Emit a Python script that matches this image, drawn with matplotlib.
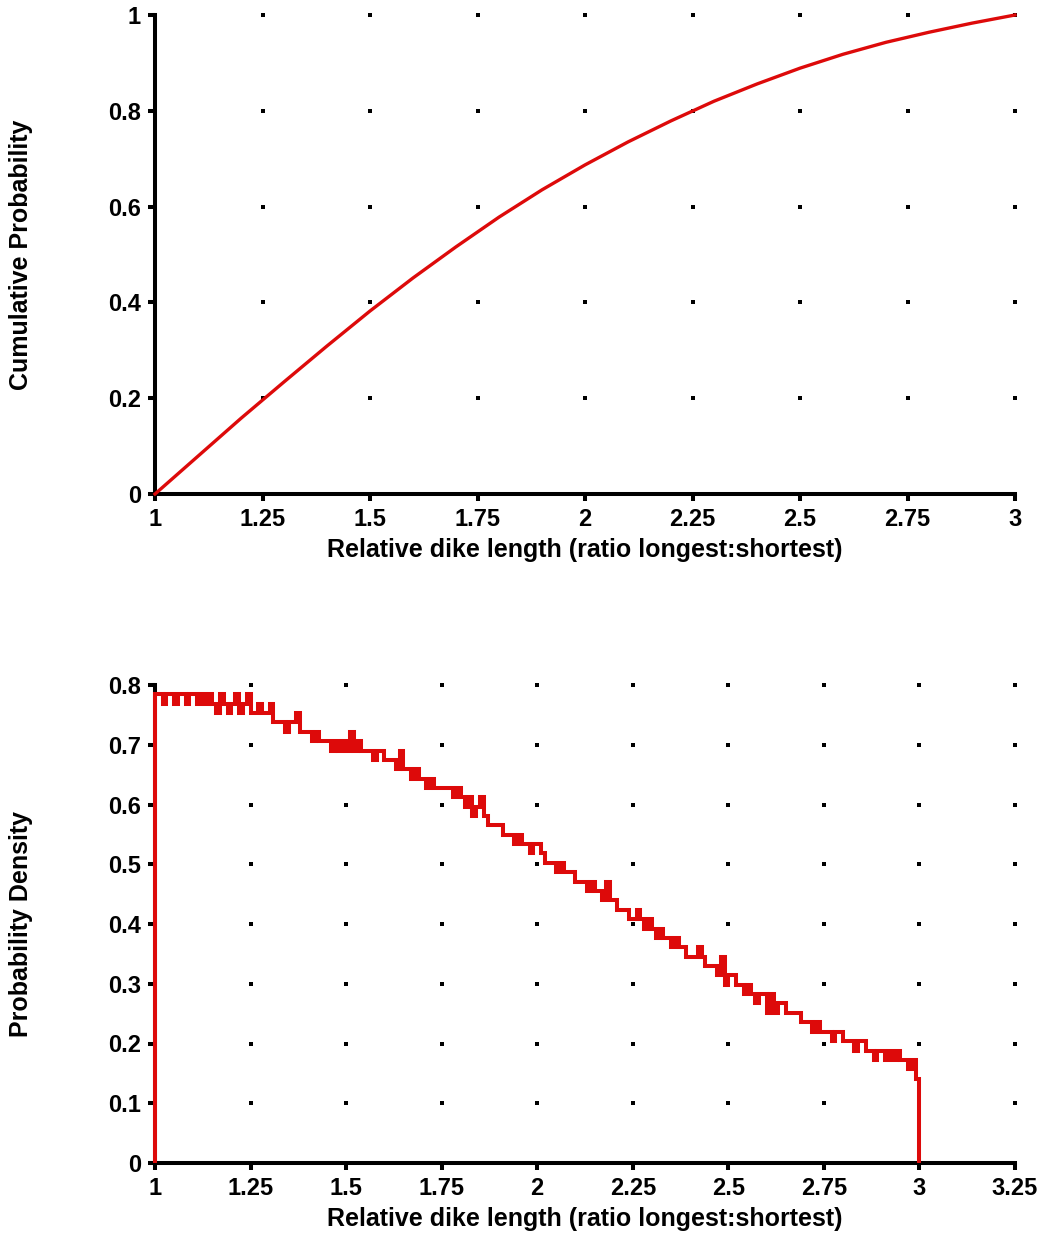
import numpy as np
import matplotlib
matplotlib.use('Agg')
import matplotlib.pyplot as plt

plt.rcParams['font.family'] = ['Liberation Sans', 'DejaVu Sans']
plt.rcParams['font.weight'] = 'bold'

RED = '#dd0a0a'

# cumulative curve
cdf_x = [1.0, 1.1, 1.2, 1.3, 1.4, 1.5, 1.6, 1.7, 1.8, 1.9, 2.0,
         2.1, 2.2, 2.3, 2.4, 2.5, 2.6, 2.7, 2.8, 2.9, 3.0]
cdf_y = [0.0, 0.079, 0.158, 0.234, 0.309, 0.382, 0.451, 0.516, 0.578, 0.635, 0.687,
         0.735, 0.779, 0.820, 0.856, 0.889, 0.918, 0.943, 0.964, 0.983, 1.0]

# histogram density, bins of 0.01 from 1 to 3
pdf_edges_start, pdf_edges_stop = 1.0, 3.0
pdf_density = [
    0.785, 0.785, 0.769, 0.785, 0.785, 0.769, 0.785, 0.785, 0.769, 0.785,
    0.785, 0.769, 0.785, 0.769, 0.785, 0.769, 0.753, 0.785, 0.769, 0.753,
    0.769, 0.785, 0.753, 0.769, 0.785, 0.753, 0.753, 0.769, 0.753, 0.753,
    0.769, 0.738, 0.738, 0.738, 0.722, 0.738, 0.738, 0.753, 0.722, 0.722,
    0.722, 0.706, 0.722, 0.706, 0.706, 0.706, 0.690, 0.706, 0.690, 0.706,
    0.690, 0.722, 0.690, 0.706, 0.690, 0.690, 0.690, 0.675, 0.690, 0.690,
    0.675, 0.675, 0.675, 0.659, 0.690, 0.659, 0.659, 0.643, 0.659, 0.643,
    0.643, 0.628, 0.643, 0.628, 0.628, 0.628, 0.628, 0.628, 0.612, 0.628,
    0.612, 0.596, 0.612, 0.581, 0.596, 0.612, 0.581, 0.565, 0.565, 0.565,
    0.565, 0.549, 0.549, 0.549, 0.534, 0.549, 0.534, 0.534, 0.518, 0.534,
    0.534, 0.518, 0.502, 0.502, 0.502, 0.487, 0.502, 0.487, 0.487, 0.487,
    0.471, 0.471, 0.471, 0.455, 0.471, 0.455, 0.455, 0.440, 0.471, 0.440,
    0.440, 0.424, 0.424, 0.424, 0.408, 0.408, 0.424, 0.408, 0.392, 0.408,
    0.392, 0.377, 0.392, 0.377, 0.377, 0.361, 0.377, 0.361, 0.361, 0.345,
    0.345, 0.345, 0.361, 0.345, 0.330, 0.330, 0.330, 0.314, 0.345, 0.298,
    0.314, 0.314, 0.298, 0.298, 0.283, 0.298, 0.283, 0.267, 0.283, 0.283,
    0.251, 0.283, 0.251, 0.267, 0.267, 0.251, 0.251, 0.251, 0.251, 0.236,
    0.236, 0.236, 0.220, 0.236, 0.220, 0.220, 0.220, 0.204, 0.220, 0.220,
    0.204, 0.204, 0.204, 0.188, 0.204, 0.204, 0.188, 0.188, 0.173, 0.188,
    0.188, 0.173, 0.188, 0.173, 0.188, 0.173, 0.173, 0.157, 0.173, 0.141,
]

top_xticks = [1, 1.25, 1.5, 1.75, 2, 2.25, 2.5, 2.75, 3]
top_yticks = [0, 0.2, 0.4, 0.6, 0.8, 1]
bot_xticks = [1, 1.25, 1.5, 1.75, 2, 2.25, 2.5, 2.75, 3, 3.25]
bot_yticks = [0, 0.1, 0.2, 0.3, 0.4, 0.5, 0.6, 0.7, 0.8]

XLABEL = 'Relative dike length (ratio longest:shortest)'
FS = 17
LABEL_FS = 18


def style_axes(ax, xticks, yticks):
    for s in ['top', 'right']:
        ax.spines[s].set_visible(False)
    for s in ['left', 'bottom']:
        ax.spines[s].set_linewidth(2.9)
        ax.spines[s].set_color('black')
    ax.set_xlim(xticks[0], xticks[-1])
    ax.set_ylim(yticks[0], yticks[-1])
    ax.set_xticks(xticks)
    ax.set_yticks(yticks)
    ax.set_xticklabels(['%g' % t for t in xticks])
    ax.set_yticklabels(['%g' % t for t in yticks])
    ax.tick_params(direction='out', length=5, width=2.9, labelsize=FS, pad=5)
    # dot "grid" at tick intersections
    gx, gy = np.meshgrid(xticks[1:], yticks[1:])
    ax.scatter(gx.ravel(), gy.ravel(), s=10, marker='s', color='black',
               linewidths=0, zorder=1, clip_on=False)
    ax.set_xlabel(XLABEL, fontsize=LABEL_FS, fontweight='bold', labelpad=5)


fig = plt.figure(figsize=(10.42, 12.33), dpi=100)
ax1 = fig.add_axes([155 / 1042, 1 - 494 / 1233, 860 / 1042, 479 / 1233])
ax2 = fig.add_axes([155 / 1042, 1 - 1163 / 1233, 860 / 1042, 478 / 1233])

style_axes(ax1, top_xticks, top_yticks)
ax1.plot(cdf_x, cdf_y, color=RED, lw=2.4, zorder=4, clip_on=False)
ax1.set_ylabel('Cumulative Probability', fontsize=LABEL_FS, fontweight='bold')
ax1.yaxis.set_label_coords(-0.142, 0.5)

style_axes(ax2, bot_xticks, bot_yticks)
edges = np.linspace(pdf_edges_start, pdf_edges_stop, len(pdf_density) + 1)
ax2.stairs(pdf_density, edges, baseline=0, color=RED, lw=2.9, zorder=4, clip_on=False)
ax2.set_ylabel('Probability Density', fontsize=LABEL_FS, fontweight='bold')
ax2.yaxis.set_label_coords(-0.142, 0.5)

plt.savefig('out.png', dpi=100)
plt.close()
